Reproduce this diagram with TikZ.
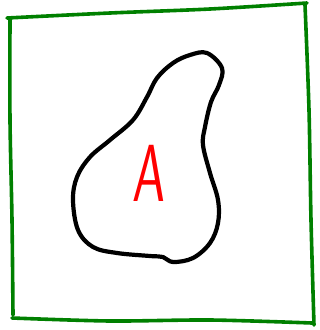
\documentclass[tikz,border=0pt]{standalone}
\usepackage{tikz}
\usetikzlibrary{positioning}

\begin{document}
\begin{tikzpicture}[x=1pt, y=-1pt,
    frame/.style={draw=green!50!black, line width=3.6pt, line cap=round},
    blob/.style={draw=black, line width=4.2pt, line join=round},
    letter/.style={text=red, font=\sffamily\fontsize{36}{36}\selectfont, transform shape, xscale=1.45, yscale=2.25, xslant=0.08, inner sep=0pt}]
  \useasboundingbox (0,0) rectangle (320,330);

  % hand-drawn frame, one stroke per side
  \draw[frame] plot[smooth, tension=0.5] coordinates {(7,18) (110,13) (210,9) (307,3)};
  \draw[frame] plot[smooth, tension=0.5] coordinates {(305,5) (309,110) (311,220) (314,325)};
  \draw[frame] plot[smooth, tension=0.5] coordinates {(12,318) (110,321) (210,320) (312,323)};
  \draw[frame] plot[smooth, tension=0.5] coordinates {(10,18) (10,120) (12,220) (13,315)};

  % region
  \draw[blob] plot[smooth cycle, tension=0.6] coordinates {
      (207,53) (222,68) (219,85) (211,102) (205,127) (203,145)
      (210,173) (218,200) (218,223) (210,243) (193,258) (173,262)
      (163,257) (150,256) (117,253) (93,247) (78,230) (73,200)
      (77,177) (90,157) (110,140) (133,120) (147,97) (157,78)
      (173,63) (190,55)};

  \node[letter] (a) at (150,173) {A};
\end{tikzpicture}
\end{document}
